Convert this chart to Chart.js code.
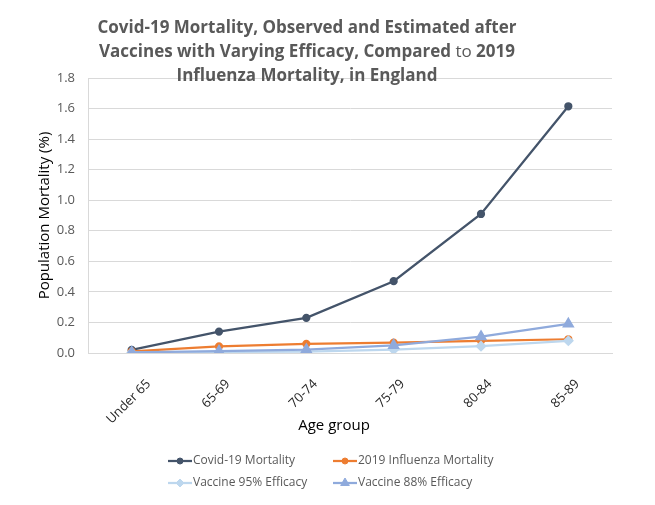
<!DOCTYPE html>
<html>
<head>
<meta charset="utf-8">
<script src="https://cdn.jsdelivr.net/npm/chart.js@4.4.0/dist/chart.umd.min.js"></script>
<style>
  html, body { margin: 0; padding: 0; background: #fff; }
  #wrap { width: 655px; height: 505px; }
</style>
</head>
<body>
<div id="wrap"><canvas id="chart"></canvas></div>
<script>
// Chart data
const ageGroups = ['Under 65', '65-69', '70-74', '75-79', '80-84', '85-89'];
const covidMortality = [0.02, 0.14, 0.23, 0.47, 0.91, 1.615];
const fluMortality = [0.01, 0.043, 0.06, 0.068, 0.08, 0.09];
const vaccine95 = [0.002, 0.007, 0.009, 0.022, 0.045, 0.08];
const vaccine88 = [0.004, 0.012, 0.022, 0.05, 0.107, 0.19];
const yTicks = [0, 0.2, 0.4, 0.6, 0.8, 1.0, 1.2, 1.4, 1.6, 1.8];

const textColor = '#595959';
const gridColor = '#d9d9d9';
const fam = '"Open Sans", sans-serif';

// title lines, each as [text, bold] pieces
const titleLines = [
    [['Covid-19 Mortality, Observed and Estimated after', true]],
    [['Vaccines with Varying Efficacy, Compared ', true], ['to', false], [' 2019', true]],
    [['Influenza Mortality, in England', true]]
];

// Title, category labels, x title and legend drawn by hand
const decorPlugin = {
    id: 'decor',
    afterDraw(chart) {
        const ctx = chart.ctx;
        const area = chart.chartArea;
        ctx.save();
        ctx.textBaseline = 'middle';

        // title, mixed weights
        ctx.fillStyle = textColor;
        const cx = 307;
        titleLines.forEach((parts, i) => {
            let total = 0;
            parts.forEach(p => {
                ctx.font = (p[1] ? 'bold ' : '') + '17px ' + fam;
                total += ctx.measureText(p[0]).width;
            });
            let x = cx - total / 2;
            const y = 28 + i * 24;
            ctx.textAlign = 'left';
            parts.forEach(p => {
                ctx.font = (p[1] ? 'bold ' : '') + '17px ' + fam;
                ctx.fillText(p[0], x, y);
                x += ctx.measureText(p[0]).width;
            });
        });

        // category labels at -45deg, centred under each tick
        const xScale = chart.scales.x;
        ctx.font = '13px ' + fam;
        ctx.fillStyle = '#262626';
        ctx.textAlign = 'center';
        const top = area.bottom + 24;
        ageGroups.forEach((lab, i) => {
            const w = ctx.measureText(lab).width;
            const half = (w + 14) * Math.SQRT1_2 / 2;
            const px = xScale.getPixelForValue(i) - 3;
            ctx.save();
            ctx.translate(px, top + half);
            ctx.rotate(-Math.PI / 4);
            ctx.fillText(lab, 0, 0);
            ctx.restore();
        });

        // x axis title
        ctx.font = '15px ' + fam;
        ctx.fillStyle = '#000';
        ctx.fillText('Age group', (area.left + area.right) / 2 - 16, 426);

        // legend: 2 x 2 grid
        const cols = [168, 333];
        const rows = [461, 483];
        chart.data.datasets.forEach((ds, i) => {
            const x = cols[i % 2];
            const y = rows[Math.floor(i / 2)];
            ctx.strokeStyle = ds.borderColor;
            ctx.lineWidth = 2.25;
            ctx.beginPath();
            ctx.moveTo(x, y);
            ctx.lineTo(x + 24, y);
            ctx.stroke();
            ctx.fillStyle = ds.pointBackgroundColor;
            ctx.strokeStyle = ds.pointBorderColor;
            ctx.lineWidth = 1;
            Chart.helpers.drawPoint(ctx, {
                pointStyle: ds.pointStyle,
                radius: ds.pointRadius,
                rotation: 0,
                borderWidth: 1
            }, x + 12, y);
            ctx.fillStyle = textColor;
            ctx.font = '12px ' + fam;
            ctx.textAlign = 'left';
            ctx.fillText(ds.label, x + 25, y);
        });
        ctx.restore();
    }
};

function series(label, data, color, style, radius, order) {
    return {
        label: label,
        data: data,
        borderColor: color,
        backgroundColor: color,
        pointBackgroundColor: color,
        pointBorderColor: color,
        pointStyle: style,
        pointRadius: radius,
        borderWidth: 2.25,
        tension: 0,
        order: order
    };
}

const ctx = document.getElementById('chart').getContext('2d');
new Chart(ctx, {
    type: 'line',
    data: {
        labels: ageGroups,
        datasets: [
            series('Covid-19 Mortality', covidMortality, '#44546a', 'circle', 3, 4),
            series('2019 Influenza Mortality', fluMortality, '#ed7d31', 'circle', 3, 3),
            series('Vaccine 95% Efficacy', vaccine95, '#bdd7ee', 'rectRot', 4, 2),
            series('Vaccine 88% Efficacy', vaccine88, '#8faadc', 'triangle', 5, 1)
        ]
    },
    options: {
        responsive: true,
        maintainAspectRatio: false,
        animation: false,
        layout: { padding: { top: 78, bottom: 152, left: 36, right: 43 } },
        plugins: {
            legend: { display: false },
            title: { display: false },
            tooltip: { enabled: false }
        },
        scales: {
            x: {
                offset: true,
                grid: { display: false, drawTicks: false },
                border: { color: gridColor, width: 1 },
                ticks: { display: false },
                afterFit: axis => {
                    axis.height = 0;
                    axis.paddingLeft = 0;
                    axis.paddingRight = 0;
                }
            },
            y: {
                min: 0,
                max: 1.8,
                afterBuildTicks: axis => { axis.ticks = yTicks.map(v => ({ value: v })); },
                afterFit: axis => { axis.width = 52; },
                grid: { color: gridColor, drawTicks: false },
                border: { color: gridColor, width: 1 },
                ticks: {
                    color: textColor,
                    font: { family: fam, size: 13 },
                    padding: 13,
                    callback: v => v.toFixed(1)
                },
                title: {
                    display: true,
                    text: 'Population Mortality (%)',
                    color: '#000',
                    font: { family: fam, size: 15 },
                    padding: { top: 0, bottom: 2 }
                }
            }
        }
    },
    plugins: [decorPlugin]
});
</script>
</body>
</html>
